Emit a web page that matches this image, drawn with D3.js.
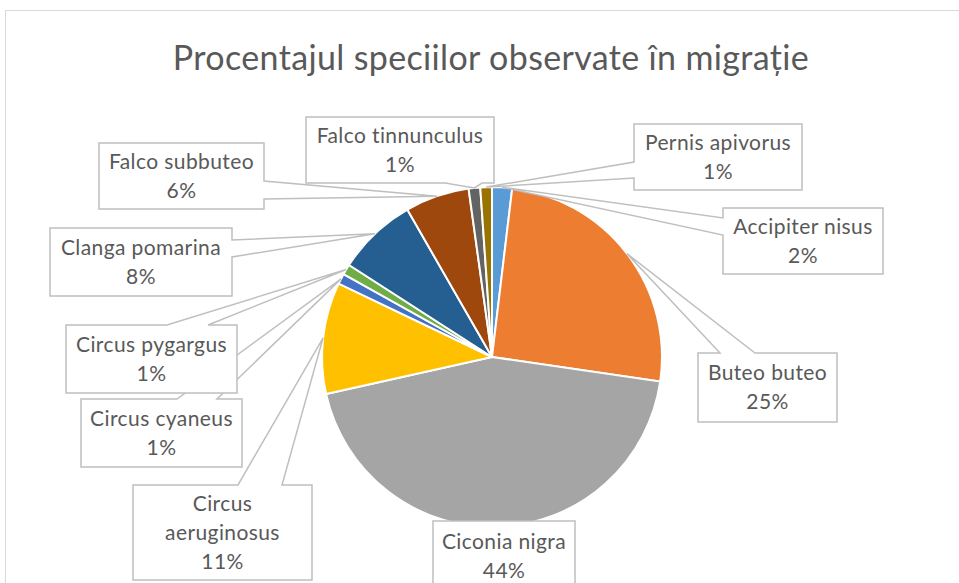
<!DOCTYPE html>
<html>
<head>
<meta charset="utf-8">
<script src="https://cdn.jsdelivr.net/npm/d3@7"></script>
<style>
  body { margin: 0; background: #fff; }
  text { font-family: Lato, "Open Sans", sans-serif; fill: #595959; }
</style>
</head>
<body>
<div id="chart"></div>
<script>
const WIDTH = 959;
const HEIGHT = 583;

// data: procentajul speciilor
const species = [
  'Accipiter nisus', 'Buteo buteo', 'Ciconia nigra', 'Circus aeruginosus',
  'Circus cyaneus', 'Circus pygargus', 'Clanga pomarina', 'Falco subbuteo',
  'Falco tinnunculus', 'Pernis apivorus'
];
const values = [1.9, 25.4, 44.2, 10.6, 1.0, 1.0, 7.6, 6.1, 1.1, 1.1];
const colors = [
  '#5B9BD5', '#ED7D31', '#A5A5A5', '#FFC000', '#4472C4',
  '#70AD47', '#255E91', '#9E480E', '#636363', '#997300'
];

// label box layout (x0, y0, x1, y1, side of the pointer, pointer base)
const labelBoxes = {
  'Accipiter nisus':    { box: [723, 208, 883, 274], side: 'left',   notch: [218, 235] },
  'Buteo buteo':        { box: [698, 353, 837, 422], side: 'top',    notch: [720, 755] },
  'Ciconia nigra':      { box: [433, 521, 575, 591], side: null },
  'Circus aeruginosus': { box: [133, 485, 312, 580], side: 'top',    notch: [238, 282], lines: ['Circus', 'aeruginosus'] },
  'Circus cyaneus':     { box: [81, 399, 242, 467],  side: 'top',    notch: [177, 217] },
  'Circus pygargus':    { box: [66, 325, 237, 393],  side: 'top',    notch: [167, 208] },
  'Clanga pomarina':    { box: [50, 228, 232, 296],  side: 'right',  notch: [240, 257] },
  'Falco subbuteo':     { box: [99, 143, 264, 209],  side: 'right',  notch: [181, 199] },
  'Falco tinnunculus':  { box: [306, 117, 494, 183], side: 'bottom', notch: [445, 482] },
  'Pernis apivorus':    { box: [634, 124, 802, 190], side: 'left',   notch: [162, 178] }
};

const CX = 492;
const CY = 357;
const R = 170;

const svg = d3.select('#chart')
  .append('svg')
  .attr('width', WIDTH)
  .attr('height', HEIGHT)

// chart area border
svg.append('rect')
  .attr('x', 5.5)
  .attr('y', 10.5)
  .attr('width', WIDTH + 20)
  .attr('height', HEIGHT + 20)
  .attr('fill', '#fff')
  .attr('stroke', '#d9d9d9')

svg.append('text')
  .attr('x', 491)
  .attr('y', 70)
  .attr('text-anchor', 'middle')
  .style('font-size', '34px')
  .style('letter-spacing', '0.35px')
  .text('Procentajul speciilor observate în migrație')

const data = species.map((s, i) => ({ name: s, value: values[i], color: colors[i] }))
const total = d3.sum(values)

const pie = d3.pie().value(d => d.value).sort(null)
const arc = d3.arc().innerRadius(0).outerRadius(R)
const arcs = pie(data)

const pieGroup = svg.append('g')
  .attr('transform', `translate(${CX},${CY})`)

pieGroup.selectAll('path')
  .data(arcs)
  .join('path')
  .attr('d', arc)
  .attr('fill', d => d.data.color)
  .attr('stroke', '#fff')
  .attr('stroke-width', 2)

function calloutPath(cfg, tip) {
  const [x0, y0, x1, y1] = cfg.box
  const n = cfg.notch || []
  const p = d3.path()
  p.moveTo(x0, y0)
  if (cfg.side === 'top') { p.lineTo(n[0], y0); p.lineTo(tip[0], tip[1]); p.lineTo(n[1], y0) }
  p.lineTo(x1, y0)
  if (cfg.side === 'right') { p.lineTo(x1, n[0]); p.lineTo(tip[0], tip[1]); p.lineTo(x1, n[1]) }
  p.lineTo(x1, y1)
  if (cfg.side === 'bottom') { p.lineTo(n[1], y1); p.lineTo(tip[0], tip[1]); p.lineTo(n[0], y1) }
  p.lineTo(x0, y1)
  if (cfg.side === 'left') { p.lineTo(x0, n[1]); p.lineTo(tip[0], tip[1]); p.lineTo(x0, n[0]) }
  p.closePath()
  return p.toString()
}

const labels = svg.append('g')
  .selectAll('g')
  .data(arcs)
  .join('g')

labels.append('path')
  .attr('d', d => {
    const mid = (d.startAngle + d.endAngle) / 2
    const tip = [CX + R * Math.sin(mid), CY - R * Math.cos(mid)]
    return calloutPath(labelBoxes[d.data.name], tip)
  })
  .attr('fill', '#fff')
  .attr('stroke', '#bfbfbf')
  .attr('stroke-width', 1.5)

labels.append('text')
  .attr('text-anchor', 'middle')
  .style('font-size', '21px')
  .style('letter-spacing', '0.4px')
  .each(function (d) {
    const cfg = labelBoxes[d.data.name]
    const [x0, y0, x1, y1] = cfg.box
    const lines = (cfg.lines || [d.data.name]).concat([Math.round(d.value / total * 100) + '%'])
    const step = 29
    const cy = (y0 + y1) / 2 - (lines.length - 1) * step / 2
    d3.select(this).selectAll('tspan')
      .data(lines)
      .join('tspan')
      .attr('x', (x0 + x1) / 2)
      .attr('y', (_, i) => cy + i * step)
      .attr('dy', '0.35em')
      .text(t => t)
  })
</script>
</body>
</html>
